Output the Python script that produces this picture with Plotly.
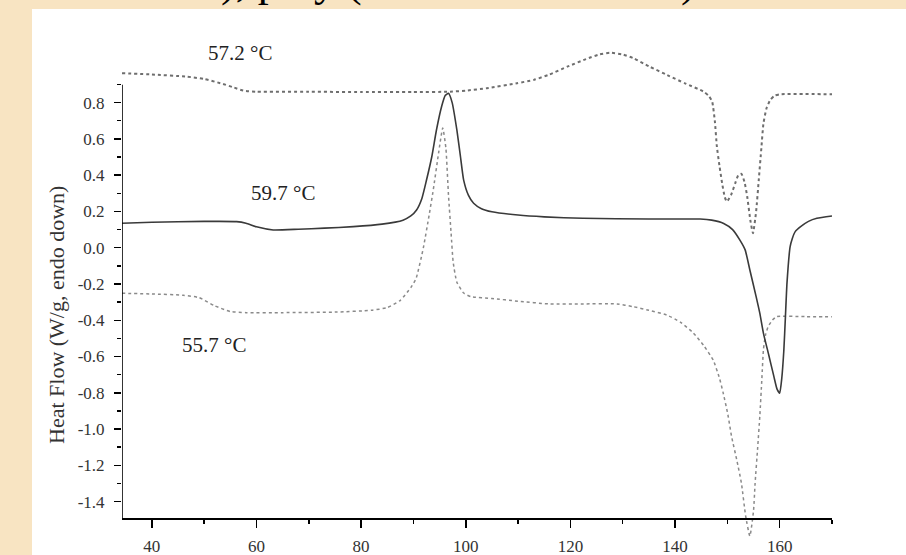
import plotly.graph_objects as go

# ---------------- data ----------------
a_temp = [34.3, 40, 46, 49, 52, 55, 58, 65, 75, 82, 85, 87.5, 89.5, 90.5, 91.9, 93, 93.8, 94.8, 95.6,
          96.2, 96.7, 97.2, 97.6, 98.3, 99.6, 101, 105, 110, 116, 122, 128.9, 132, 135, 138.4, 141,
          143.5, 145.5, 147.3, 148.5, 149.2, 150.1, 150.8, 151.8, 152.7, 153.5, 154.3, 155.0, 155.3,
          155.8, 156.2, 156.6, 156.9, 157.3, 157.8, 158.6, 159.4, 165, 170]
a_flow = [-0.251, -0.255, -0.262, -0.275, -0.32, -0.352, -0.358, -0.358, -0.355, -0.345, -0.33, -0.29,
          -0.22, -0.17, 0.0, 0.18, 0.32, 0.52, 0.66, 0.55, 0.29, 0.08, -0.08, -0.19, -0.25, -0.27,
          -0.28, -0.295, -0.31, -0.31, -0.31, -0.325, -0.345, -0.371, -0.41, -0.47, -0.54, -0.62,
          -0.72, -0.80, -0.92, -1.04, -1.17, -1.30, -1.48, -1.59, -1.45, -1.30, -1.10, -0.93, -0.72,
          -0.56, -0.48, -0.435, -0.40, -0.38, -0.38, -0.38]

b_temp = [34.3, 40, 50, 56.2, 58, 60, 63.2, 68, 73, 78.5, 84, 88, 89.5, 90.6, 91.6, 92.5, 93.5, 94.4,
          95.4, 96.1, 96.7, 97.4, 98.3, 99, 99.6, 100.5, 101.5, 103, 105, 110, 115, 122.4, 135, 144.8,
          147, 149.3, 151, 152.4, 153.4, 154.3, 155.5, 156.2, 156.9, 157.9, 158.9, 159.5, 160.0, 160.4,
          160.8, 161.1, 161.4, 162.0, 162.4, 163, 164, 165.5, 167.1, 170]
b_flow = [0.135, 0.14, 0.145, 0.144, 0.135, 0.115, 0.098, 0.102, 0.108, 0.116, 0.13, 0.152, 0.175,
          0.208, 0.27, 0.373, 0.50, 0.649, 0.78, 0.84, 0.851, 0.80, 0.649, 0.50, 0.373, 0.29, 0.245,
          0.215, 0.198, 0.18, 0.17, 0.162, 0.158, 0.158, 0.152, 0.134, 0.10, 0.042, -0.012, -0.123,
          -0.27, -0.361, -0.472, -0.59, -0.711, -0.78, -0.802, -0.72, -0.564, -0.38, -0.194, 0.006,
          0.05, 0.09, 0.116, 0.145, 0.162, 0.175]

c_temp = [34.3, 40, 46.7, 50, 53.1, 55.5, 57.5, 60, 70, 80, 90, 97, 100, 104, 109.8, 113, 116, 119.4,
          123, 125.5, 127.6, 130, 132.1, 135, 138.5, 142, 145.5, 146.5, 147.1, 147.6, 148, 148.5, 149,
          149.5, 149.9, 150.7, 151.5, 152.1, 152.7, 153.3, 153.8, 154.4, 154.9, 155.5, 156, 156.5,
          156.9, 157.5, 158.2, 159, 160.1, 170]
c_flow = [0.962, 0.955, 0.943, 0.93, 0.907, 0.885, 0.866, 0.86, 0.86, 0.858, 0.858, 0.86, 0.866, 0.879,
          0.907, 0.925, 0.955, 0.998, 1.04, 1.065, 1.075, 1.065, 1.044, 1.00, 0.952, 0.905, 0.86, 0.835,
          0.805, 0.70, 0.557, 0.45, 0.355, 0.28, 0.254, 0.29, 0.355, 0.40, 0.407, 0.36, 0.281, 0.15,
          0.08, 0.20, 0.373, 0.55, 0.686, 0.77, 0.814, 0.838, 0.846, 0.846]

x_ticks = [40, 60, 80, 100, 120, 140, 160]
x_minor = [50, 70, 90, 110, 130, 150, 170]
y_ticks = [-1.4, -1.2, -1.0, -0.8, -0.6, -0.4, -0.2, 0.0, 0.2, 0.4, 0.6, 0.8]
y_minor = [-1.3, -1.1, -0.9, -0.7, -0.5, -0.3, -0.1, 0.1, 0.3, 0.5, 0.7, 0.9]
y_ticktext = ["%.1f" % v for v in y_ticks]

curve_labels = ["a", "b", "c"]
temp_labels = ["55.7 °C", "59.7 °C", "57.2 °C"]

# ---------------- figure ----------------
W, H = 906, 555
ML, MR, MT, MB = 122, 74, 9, 10
pw, ph = W - ML - MR, H - MT - MB
XR = [34.3, 170.0]
YR = [-1.639, 1.316]
y_axis_bottom = -1.49
y_axis_top = 0.898
x_axis_pos = (H - MB - 518.3) / ph
BEIGE = "#F8E4C2"

serif = "Liberation Serif"
fig = go.Figure()
fig.add_trace(go.Scatter(x=a_temp, y=a_flow, mode="lines", line=dict(color="#8a8a8a", width=1.5, dash="dot", shape="spline", smoothing=0.5)))
fig.add_trace(go.Scatter(x=b_temp, y=b_flow, mode="lines", line=dict(color="#3a3a3a", width=1.6, shape="spline", smoothing=0.5)))
fig.add_trace(go.Scatter(x=c_temp, y=c_flow, mode="lines", line=dict(color="#6e6e6e", width=2, dash="3px,3px", shape="spline", smoothing=0.5)))


def px_x(px):
    return (px - ML) / pw


def px_y(py):
    return (H - MB - py) / ph


shapes = [
    dict(type="rect", xref="paper", yref="paper", x0=px_x(32), x1=px_x(W + 2), y0=px_y(H + 2), y1=px_y(9),
         fillcolor="white", line=dict(width=0), layer="below"),
    dict(type="line", xref="x", yref="y", x0=XR[0], x1=XR[0], y0=y_axis_bottom, y1=y_axis_top,
         line=dict(color="black", width=1.6)),
]

annotations = []
label_pos = [(176.5, -0.408), (176.6, 0.164), (175.6, 0.833)]
for t, (lx, ly) in zip(curve_labels, label_pos):
    annotations.append(dict(x=lx, y=ly, xref="x", yref="y", text=t, showarrow=False,
                            xanchor="center", yanchor="middle",
                            font=dict(family=serif, size=20, color="#222")))
temp_pos = [(51.9, -0.536), (65.0, 0.302), (56.9, 1.072)]
for t, (lx, ly) in zip(temp_labels, temp_pos):
    annotations.append(dict(x=lx, y=ly, xref="x", yref="y", text=t, showarrow=False,
                            xanchor="center", yanchor="middle",
                            font=dict(family=serif, size=21, color="#222")))
annotations.append(dict(x=px_x(57), y=px_y(315), xref="paper", yref="paper", text="Heat Flow (W/g, endo down)",
                        xanchor="center", yanchor="middle",
                        textangle=-90, showarrow=False, font=dict(family=serif, size=22, color="#333")))
# clipped title text at top of page (only the descenders show)
annotations.append(dict(x=px_x(219), y=px_y(8), xref="paper", yref="paper", xanchor="left", yanchor="bottom",
                        text="), poly (", showarrow=False, font=dict(family=serif, size=44, color="black")))
annotations.append(dict(x=px_x(688), y=px_y(8), xref="paper", yref="paper", xanchor="center", yanchor="bottom",
                        text=")", showarrow=False, font=dict(family=serif, size=44, color="black")))

fig.update_layout(
    width=W, height=H,
    margin=dict(l=ML, r=MR, t=MT, b=MB, pad=0, autoexpand=False),
    paper_bgcolor=BEIGE,
    plot_bgcolor="rgba(0,0,0,0)",
    showlegend=False,
    shapes=shapes,
    annotations=annotations,
    xaxis=dict(range=XR, anchor="free", position=x_axis_pos, automargin=False, showline=True, linecolor="black", linewidth=1.6,
               showgrid=False, zeroline=False, tickmode="array", tickvals=x_ticks,
               ticks="outside", ticklen=8, tickwidth=1.5, tickcolor="black", ticklabelstandoff=4,
               tickfont=dict(family=serif, size=17, color="#333"),
               minor=dict(tickmode="array", tickvals=x_minor, ticks="outside", ticklen=4, tickwidth=1.5, tickcolor="black")),
    yaxis=dict(range=YR, automargin=False, showline=False, showgrid=False, zeroline=False, tickmode="array", tickvals=y_ticks,
               ticktext=y_ticktext, ticks="outside", ticklen=7, tickwidth=1.5, tickcolor="black", ticklabelstandoff=6,
               tickfont=dict(family=serif, size=17, color="#333"),
               minor=dict(tickmode="array", tickvals=y_minor, ticks="outside", ticklen=4, tickwidth=1.5, tickcolor="black")),
)

fig.write_html("out.html", config={"displayModeBar": False, "staticPlot": True},
               post_script="document.body.style.margin='0';document.body.style.overflow='hidden';"
                           "document.body.style.background='" + BEIGE + "';")
